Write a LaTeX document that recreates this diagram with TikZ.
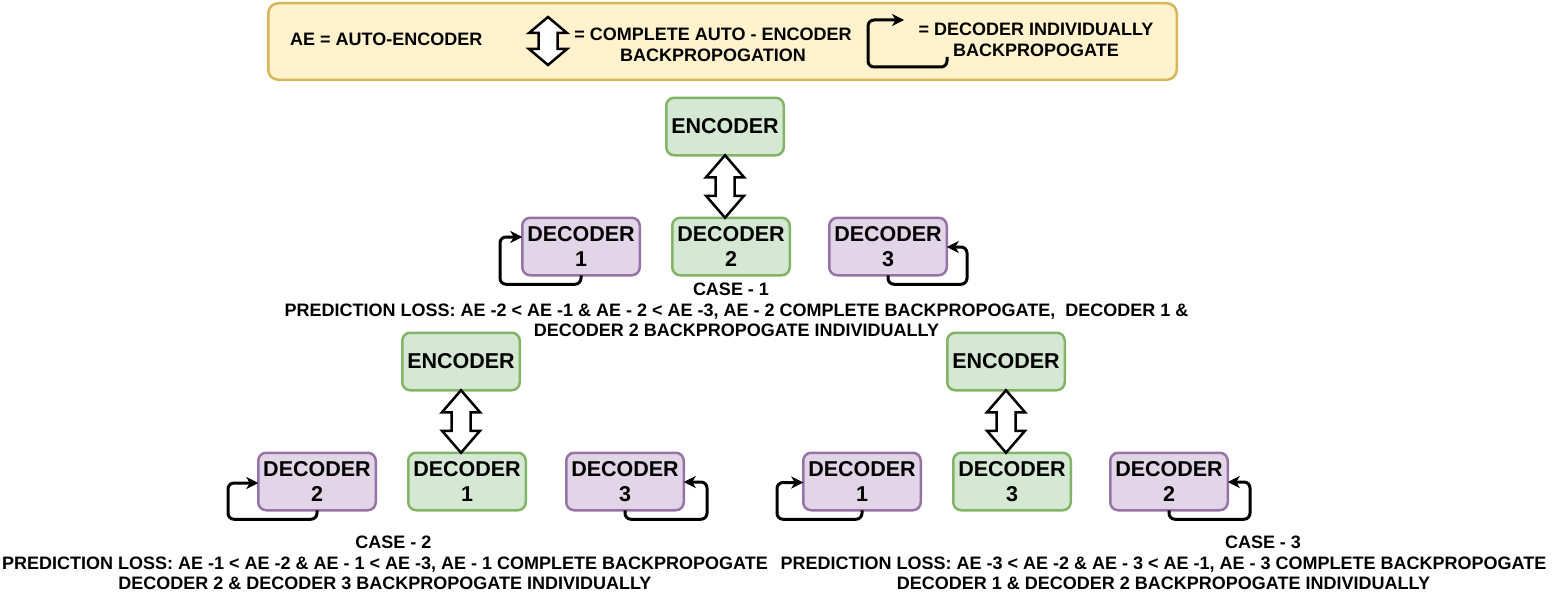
\documentclass[tikz,border=0pt]{standalone}
\usepackage{fontspec}
\setmainfont{Liberation Sans}
\usetikzlibrary{arrows.meta,calc}
\definecolor{legfill}{HTML}{FFF2CC}
\definecolor{legdraw}{HTML}{D6B656}
\definecolor{gfill}{HTML}{D5E8D4}
\definecolor{gdraw}{HTML}{82B366}
\definecolor{pfill}{HTML}{E1D5E7}
\definecolor{pdraw}{HTML}{9673A6}
% double arrow: #1 top tip, #2 bottom tip, #3 half width, #4 shaft half width, #5 head length
\newcommand\dblarr[5]{%
  \draw[dbl] (#1) -- ($(#1)+(#3,#5)$) -- ($(#1)+(#4,#5)$) -- ($(#2)+(#4,-#5)$) -- ($(#2)+(#3,-#5)$) -- (#2)
    -- ($(#2)+(-#3,-#5)$) -- ($(#2)+(-#4,-#5)$) -- ($(#1)+(-#4,#5)$) -- ($(#1)+(-#3,#5)$) -- cycle;}
\begin{document}
\begin{tikzpicture}[x=1pt,y=-1pt,
  box/.style={draw, line width=2.5pt, rounded corners=8pt, minimum width=117.5pt, minimum height=57.5pt,
    align=center, font=\fontsize{21.5}{25}\bfseries\selectfont, inner sep=0pt, outer sep=0pt},
  gbox/.style={box, fill=gfill, draw=gdraw},
  pbox/.style={box, fill=pfill, draw=pdraw},
  captxt/.style={align=center, font=\fontsize{18}{20.5}\bfseries\selectfont, inner sep=0pt},
  legtxt/.style={align=center, font=\fontsize{18}{21}\bfseries\selectfont, inner sep=0pt},
  selfloop/.style={line width=3pt, rounded corners=6pt, -{Stealth[length=12pt,width=12pt,inset=3.5pt]}},
  dbl/.style={draw=black, fill=white, line width=2.5pt, line join=miter}
]
\useasboundingbox (0,0) rectangle (1560,594);

% ---------- legend ----------
\node[draw=legdraw, fill=legfill, line width=2.5pt, rounded corners=10pt, minimum width=908.5pt,
      minimum height=76.5pt, inner sep=0pt] (legend) at (722.5,41.5) {};
\node[legtxt, anchor=west] (legae) at (290,39) {AE = AUTO-ENCODER};
\coordinate (lat) at (548,17);
\coordinate (lab) at (548,65);
\dblarr{lat}{lab}{19}{9.5}{16}
\node[legtxt] (legcomp) at (713,45) {= COMPLETE AUTO - ENCODER\\BACKPROPOGATION};
\coordinate (lls) at (947,57);
\coordinate (lle) at (904,20);
\draw[selfloop] (lls) -- ++(0,10) -- ++(-79,0) |- (lle);
\node[legtxt] (legind) at (1036,39.5) {= DECODER INDIVIDUALLY\\BACKPROPOGATE};

% ---------- case 1 ----------
\node[gbox] (c1e) at (725,126.5) {ENCODER};
\node[pbox] (c1d1) at (581,246.5) {DECODER\\1};
\node[gbox] (c1d2) at (731,246.5) {DECODER\\2};
\node[pbox] (c1d3) at (888,246.5) {DECODER\\3};
\coordinate (c1t) at (c1e.south);
\coordinate (c1b) at (c1e.south |- c1d2.north);
\dblarr{c1t}{c1b}{19}{9.5}{22}
\draw[selfloop] (c1d1.south) -- ++(0,9) -- ++(-81,0) |- ($(c1d1.west)+(0,-9.5)$);
\draw[selfloop] (c1d3.south) -- ++(0,9) -- ++(79,0) |- ($(c1d3.east)+(0,0.5)$);
\node[captxt] (c1case) at (731,289) {CASE - 1};
\node[captxt] (c1loss) at (736.5,320.5) {PREDICTION LOSS: AE -2 < AE -1 \& AE - 2 < AE -3, AE - 2 COMPLETE BACKPROPOGATE,\ \ DECODER 1 \&\\DECODER 2 BACKPROPOGATE INDIVIDUALLY};

% ---------- case 2 ----------
\node[gbox] (c2e) at (461,361.5) {ENCODER};
\node[pbox] (c2d2) at (317,481.5) {DECODER\\2};
\node[gbox] (c2d1) at (467,481.5) {DECODER\\1};
\node[pbox] (c2d3) at (625,481.5) {DECODER\\3};
\coordinate (c2t) at (c2e.south);
\coordinate (c2b) at (c2e.south |- c2d1.north);
\dblarr{c2t}{c2b}{19}{9.5}{22}
\draw[selfloop] (c2d2.south) -- ++(0,9) -- ++(-89,0) |- ($(c2d2.west)+(0,1.5)$);
\draw[selfloop] (c2d3.south) -- ++(0,9) -- ++(82,0) |- ($(c2d3.east)+(0,0.5)$);
\node[captxt] (c2case) at (393.5,542) {CASE - 2};
\node[captxt] (c2loss) at (385,573.5) {PREDICTION LOSS: AE -1 < AE -2 \& AE - 1 < AE -3, AE - 1 COMPLETE BACKPROPOGATE\\DECODER 2 \& DECODER 3 BACKPROPOGATE INDIVIDUALLY};

% ---------- case 3 ----------
\node[gbox] (c3e) at (1006,361.5) {ENCODER};
\node[pbox] (c3d1) at (862,481.5) {DECODER\\1};
\node[gbox] (c3d3) at (1012,481.5) {DECODER\\3};
\node[pbox] (c3d2) at (1169,481.5) {DECODER\\2};
\coordinate (c3t) at (c3e.south);
\coordinate (c3b) at (c3e.south |- c3d3.north);
\dblarr{c3t}{c3b}{19}{9.5}{22}
\draw[selfloop] (c3d1.south) -- ++(0,9) -- ++(-85,0) |- ($(c3d1.west)+(0,1)$);
\draw[selfloop] (c3d2.south) -- ++(0,9) -- ++(81,0) |- ($(c3d2.east)+(0,0.5)$);
\node[captxt] (c3case) at (1263,542) {CASE - 3};
\node[captxt] (c3loss) at (1163.5,573.5) {PREDICTION LOSS: AE -3 < AE -2 \& AE - 3 < AE -1, AE - 3 COMPLETE BACKPROPOGATE\\DECODER 1 \& DECODER 2 BACKPROPOGATE INDIVIDUALLY};
\end{tikzpicture}
\end{document}
